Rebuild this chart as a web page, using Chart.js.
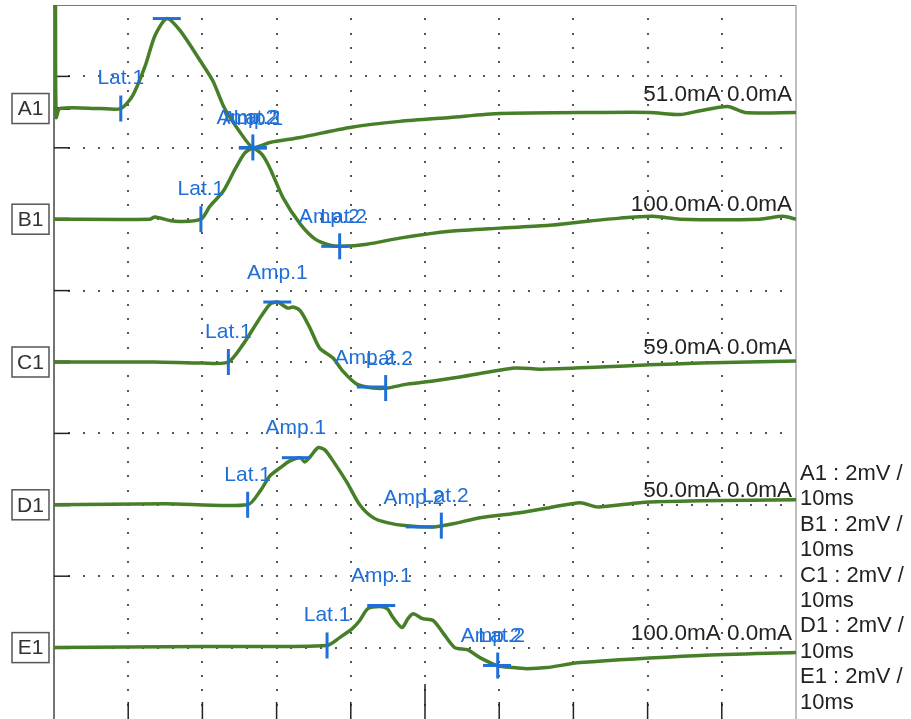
<!DOCTYPE html>
<html lang="en">
<head>
<meta charset="UTF-8">
<title>Evoked response traces A1-E1</title>
<script src="https://cdn.jsdelivr.net/npm/chart.js"></script>
<style>
  body { margin: 0; background: #fff; }
  #wrap { position: relative; width: 911px; height: 719px; }
</style>
</head>
<body>
<div id="wrap"><canvas id="traces"></canvas></div>
<script>
// channels, stimulus text and sweep settings
const channels = ['A1', 'B1', 'C1', 'D1', 'E1'];
const stimText = ['51.0mA 0.0mA', '100.0mA 0.0mA', '59.0mA 0.0mA', '50.0mA 0.0mA', '100.0mA 0.0mA'];
const gainText = channels.map(c => c + ' : 2mV /');
const sweepText = '10ms';
const mvPerDiv = 2;
const baseDiv = [8.55, 7.0, 5.0, 3.0, 1.0]; // trace baseline, in divisions from the bottom

// traces: time (ms) and amplitude (mV)
const tA = [0.2, 0.3, 0.8, 6.2, 9.0, 10.6, 12.3, 13.6, 15.2, 17.0, 19.7, 21.4, 23.0, 25.1, 26.8, 29.1, 33.2, 39.9, 46.6, 53.4, 60.1, 73.6, 80.3, 84.4, 87.1, 90.8, 93.1, 100];
const vA = [2.89, -0.25, 0, 0, 0, 0.36, 1.20, 2.04, 2.52, 2.18, 1.34, 0.78, 0, -0.67, -1.09, -0.95, -0.81, -0.53, -0.36, -0.25, -0.14, -0.11, -0.11, -0.17, -0.06, 0.06, -0.11, -0.11];

const tB = [0, 12.9, 13.6, 16.3, 19.8, 21.0, 22.8, 24.4, 25.7, 26.8, 28.0, 29.1, 30.9, 33.2, 35.2, 37.2, 38.5, 42.2, 46.6, 53.4, 60.1, 66.8, 70.9, 76.3, 80.7, 84.4, 95.1, 98.2, 100];
const vB = [0, 0, 0.06, -0.06, 0, 0.36, 0.78, 1.40, 1.85, 1.99, 1.82, 1.43, 0.59, -0.14, -0.56, -0.73, -0.76, -0.70, -0.53, -0.34, -0.25, -0.17, -0.08, 0.03, 0.08, 0, 0, 0.08, 0];

const tC = [0, 13.5, 20, 23.5, 25.5, 27.5, 29.1, 30.1, 31.5, 32.2, 33.2, 34.5, 35.8, 37.6, 38.9, 40.8, 43.0, 44.9, 47.6, 51.1, 54.7, 62.1, 65.5, 73.6, 80.3, 87.1, 100];
const vC = [0, 0, -0.03, 0, 0.50, 1.15, 1.62, 1.68, 1.51, 1.54, 1.43, 0.95, 0.39, 0.11, -0.25, -0.62, -0.73, -0.73, -0.62, -0.53, -0.42, -0.17, -0.2, -0.14, -0.08, -0.03, 0.03];

const tD = [0, 15, 26.1, 27.8, 29.1, 30.5, 31.8, 33.2, 33.8, 34.5, 35.6, 36.5, 37.6, 39.5, 41.2, 43.0, 44.9, 47.6, 51.1, 53.8, 57.4, 62.8, 66.8, 70.9, 73.3, 79.0, 87.1, 100];
const vD = [0, 0.03, 0, 0.39, 0.81, 1.04, 1.23, 1.32, 1.20, 1.34, 1.60, 1.54, 1.23, 0.62, 0, -0.36, -0.50, -0.59, -0.62, -0.53, -0.36, -0.22, -0.08, 0.06, -0.06, 0.06, 0.11, 0.14];

const tE = [0, 20, 36.8, 38.5, 40.2, 41.2, 42.3, 43.9, 44.9, 45.7, 46.9, 47.7, 48.4, 49.7, 51.1, 52.4, 54.0, 55.7, 57.4, 59.7, 61.9, 63.7, 66.4, 70.9, 87.1, 100];
const vE = [0, 0.03, 0.06, 0.28, 0.53, 0.76, 1.09, 1.15, 1.09, 0.84, 0.56, 0.81, 0.95, 0.81, 0.76, 0.42, 0, -0.06, -0.28, -0.50, -0.56, -0.59, -0.56, -0.42, -0.22, -0.14];

// cursor markers per channel
const lat1Ms = [9.0, 19.8, 23.5, 26.1, 36.8];
const amp1Ms = [15.2, 26.8, 30.1, 32.6, 44.1];
const amp1MV = [2.52, 1.99, 1.68, 1.32, 1.18];
const amp2Ms = [26.8, 37.9, 42.7, 49.3, 59.7];
const amp2MV = [-1.09, -0.76, -0.70, -0.62, -0.50];
const lat2Ms = [26.8, 38.5, 44.7, 52.2, 59.8];

const GREEN = '#467f28';
const BLUE = '#1f6fd6';
const FONT = '"Liberation Sans", Arial, sans-serif';

const traceT = [tA, tB, tC, tD, tE];
const traceV = [vA, vB, vC, vD, vE];

function toDiv(i, mv) { return baseDiv[i] + mv / mvPerDiv; }

function valueAt(i, t) {
  const ts = traceT[i], vs = traceV[i];
  for (let j = 1; j < ts.length; j++) {
    if (t <= ts[j]) {
      const f = (t - ts[j - 1]) / (ts[j] - ts[j - 1]);
      return vs[j - 1] + f * (vs[j] - vs[j - 1]);
    }
  }
  return vs[vs.length - 1];
}

const datasets = channels.map((name, i) => ({
  label: name,
  data: traceT[i].map((t, j) => ({ x: t, y: toDiv(i, traceV[i][j]) })),
  borderColor: GREEN,
  borderWidth: 3.5,
  pointRadius: 0,
  tension: 0.25,
  fill: false
}));

function seg(ctx, x1, y1, x2, y2) {
  ctx.beginPath(); ctx.moveTo(x1, y1); ctx.lineTo(x2, y2); ctx.stroke();
}

const overlay = {
  id: 'overlay',
  beforeDraw(chart) {
    const ctx = chart.ctx;
    ctx.save();
    ctx.fillStyle = '#fff';
    ctx.fillRect(0, 0, chart.width, chart.height);
    ctx.restore();
  },
  beforeDatasetsDraw(chart) {
    const { ctx, chartArea: a, scales: { x, y } } = chart;
    ctx.save();
    // dotted grid
    ctx.fillStyle = '#555';
    for (let k = 1; k < 10; k++) {
      const py = Math.round(y.getPixelForValue(k));
      for (let t = 2; t < 100; t += 2) {
        const px = Math.round(x.getPixelForValue(t));
        ctx.fillRect(px - 1, py - 1, 2, 2);
      }
    }
    for (let t = 10; t < 100; t += 10) {
      const px = Math.round(x.getPixelForValue(t));
      for (let s = 1; s < 50; s++) {
        const py = Math.round(y.getPixelForValue(s / 5));
        ctx.fillRect(px - 1, py - 1, 2, 2);
      }
    }
    // frame
    ctx.strokeStyle = '#777';
    ctx.lineWidth = 1;
    seg(ctx, a.left, a.top + 0.5, a.right, a.top + 0.5);
    ctx.strokeStyle = '#aaa';
    ctx.lineWidth = 1.5;
    seg(ctx, a.right, a.top, a.right, a.bottom);
    ctx.strokeStyle = '#444';
    seg(ctx, a.left, a.top, a.left, a.bottom);
    // left ticks
    ctx.strokeStyle = '#222';
    for (let k = 1; k < 10; k++) {
      const py = y.getPixelForValue(k);
      seg(ctx, a.left, py, a.left + 16, py);
    }
    ctx.lineWidth = 3;
    baseDiv.forEach(b => {
      const py = y.getPixelForValue(b);
      seg(ctx, a.left, py, a.left + 16, py);
    });
    // bottom ticks
    ctx.lineWidth = 1.5;
    for (let t = 10; t < 100; t += 10) {
      const px = x.getPixelForValue(t);
      seg(ctx, px, a.bottom - (t === 50 ? 35 : 17), px, a.bottom);
    }
    ctx.restore();
  },
  afterDatasetsDraw(chart) {
    const { ctx, chartArea: a, scales: { x, y } } = chart;
    ctx.save();
    ctx.textAlign = 'center';
    ctx.textBaseline = 'middle';
    channels.forEach((name, i) => {
      const base = y.getPixelForValue(baseDiv[i]);

      // cursors
      ctx.strokeStyle = BLUE;
      ctx.fillStyle = BLUE;
      ctx.lineWidth = 3;
      ctx.font = '21px ' + FONT;

      let px = x.getPixelForValue(lat1Ms[i]);
      let py = y.getPixelForValue(toDiv(i, valueAt(i, lat1Ms[i])));
      seg(ctx, px, py - 13, px, py + 13);
      ctx.fillText('Lat.1', px, py - 30);

      px = x.getPixelForValue(amp1Ms[i]);
      py = y.getPixelForValue(toDiv(i, amp1MV[i]));
      seg(ctx, px - 14, py, px + 14, py);
      ctx.fillText('Amp.1', px, py - 29);

      px = x.getPixelForValue(amp2Ms[i]);
      py = y.getPixelForValue(toDiv(i, amp2MV[i]));
      seg(ctx, px - 14, py, px + 14, py);
      ctx.fillText('Amp.2', px - 6, py - 29);

      px = x.getPixelForValue(lat2Ms[i]);
      py = y.getPixelForValue(toDiv(i, valueAt(i, lat2Ms[i])));
      seg(ctx, px, py - 13, px, py + 13);
      ctx.fillText('Lat.2', px + 4, py - 29);

      // channel box
      ctx.fillStyle = '#fff';
      ctx.fillRect(12, base - 15, 37, 30);
      ctx.strokeStyle = '#555';
      ctx.lineWidth = 1.5;
      ctx.strokeRect(12, base - 15, 37, 30);
      ctx.fillStyle = '#333';
      ctx.font = '21px ' + FONT;
      ctx.fillText(name, 30.5, base + 1);

      // stimulus text
      ctx.textAlign = 'right';
      ctx.fillStyle = '#222';
      ctx.font = '22.5px ' + FONT;
      ctx.fillText(stimText[i], a.right - 4, base - 14);
      ctx.textAlign = 'center';
    });

    // gain / sweep legend
    ctx.textAlign = 'left';
    ctx.fillStyle = '#222';
    ctx.font = '22px ' + FONT;
    gainText.forEach((g, i) => {
      ctx.fillText(g, a.right + 4, 474 + i * 50.8);
      ctx.fillText(sweepText, a.right + 4, 474 + i * 50.8 + 25.4);
    });
    ctx.restore();
  }
};

new Chart(document.getElementById('traces'), {
  type: 'line',
  data: { datasets },
  options: {
    responsive: true,
    maintainAspectRatio: false,
    animation: false,
    layout: { padding: { left: 54, right: 115, top: 5, bottom: 0 } },
    plugins: { legend: { display: false }, tooltip: { enabled: false } },
    scales: {
      x: { type: 'linear', min: 0, max: 100, display: false },
      y: { type: 'linear', min: 0, max: 10, display: false }
    }
  },
  plugins: [overlay]
});
</script>
</body>
</html>
